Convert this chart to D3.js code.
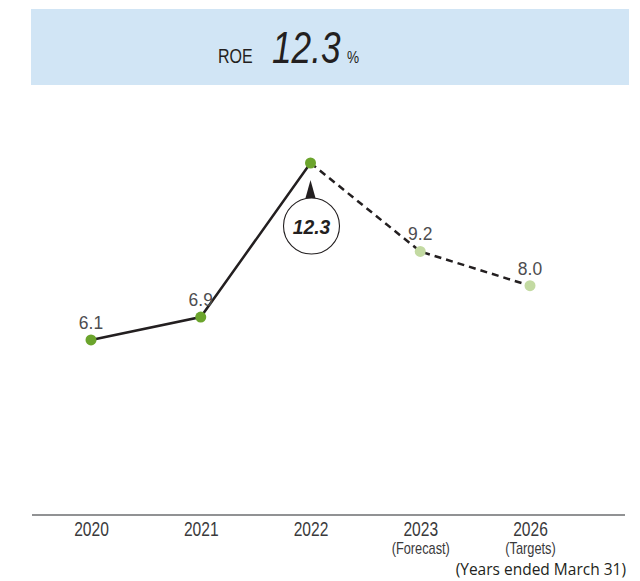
<!DOCTYPE html>
<html><head><meta charset="utf-8">
<script src="https://cdn.jsdelivr.net/npm/d3@7/dist/d3.min.js"></script>
<style>
html,body{margin:0;padding:0;background:#fff;}
svg{display:block;}
</style></head>
<body>
<script>
const categories = ["2020","2021","2022","2023","2026"];
const subLabels = ["","","","(Forecast)","(Targets)"];
const roeValues = [6.1, 6.9, 12.3, 9.2, 8.0];
const isActual = [true, true, true, false, false];
const headline = "12.3";

const W = 640, H = 581;
const svg = d3.select("body").append("svg").attr("width", W).attr("height", H);

const sans = "'Liberation Sans',Arial,sans-serif";
const NS = 0.8; // horizontal squeeze to mimic condensed type

// banner
svg.append("rect").attr("x",31).attr("y",9).attr("width",598).attr("height",76).attr("fill","#d1e5f5");
function bannerText(x0, size, italic, str){
  svg.append("text").attr("transform",`translate(${x0},63) scale(${NS},1)`)
    .attr("font-family",sans).attr("font-size",size).attr("fill","#231f20")
    .attr("font-style", italic ? "italic" : "normal").text(str);
}
bannerText(218, 20, false, "ROE");
bannerText(272, 44, true, headline);
bannerText(347, 17, false, "%");

const x = d3.scalePoint().domain(categories).range([91, 530]);
const y = d3.scaleLinear().domain([0, 12.3]).range([514, 163]);

// axis
const axis = d3.axisBottom(x).tickSize(0).tickPadding(0).tickFormat(d => d);
const ag = svg.append("g").attr("transform","translate(0,515)").call(axis);
ag.select(".domain").attr("d","M32,0H625").attr("stroke","#6d6e71").attr("stroke-width",1.6);
ag.selectAll(".tick text").attr("y",0).attr("dy",0)
  .attr("transform",`translate(0,20.5) scale(${NS},1)`).attr("font-size",19.5)
  .attr("font-family",sans).attr("fill","#3a3a3c");
ag.selectAll(".tick").append("text").attr("transform",`translate(0,38.5) scale(${NS},1)`).attr("text-anchor","middle")
  .attr("font-size",16).attr("font-family",sans).attr("fill","#3a3a3c")
  .text((d,i) => subLabels[i]);

const pts = categories.map((c,i) => ({c, v: roeValues[i], a: isActual[i]}));
const line = d3.line().x(d => x(d.c)).y(d => y(d.v));

svg.append("path").attr("d", line(pts.filter(d => d.a))).attr("fill","none")
  .attr("stroke","#231f20").attr("stroke-width",2.5);
svg.append("path").attr("d", line(pts.slice(2))).attr("fill","none")
  .attr("stroke","#231f20").attr("stroke-width",2.5).attr("stroke-dasharray","7,5");

svg.selectAll("circle.pt").data(pts).enter().append("circle").attr("class","pt")
  .attr("cx", d => x(d.c)).attr("cy", d => y(d.v)).attr("r",5.5)
  .attr("fill", d => d.a ? "#6ba42c" : "#c3daa2");

// value labels (except the highlighted 2022)
svg.selectAll("text.val").data(pts.filter(d => d.c !== "2022")).enter().append("text").attr("class","val")
  .attr("transform", d => `translate(${x(d.c)},${y(d.v) - 11}) scale(0.92,1)`).attr("text-anchor","middle")
  .attr("font-size",19).attr("font-family",sans).attr("fill","#4d4d4f")
  .text(d => d.v.toFixed(1));

// callout for 2022
const hp = pts[2];
const cx = x(hp.c) + 1, cy = y(hp.v) + 63;
svg.append("circle").attr("cx",cx).attr("cy",cy).attr("r",28).attr("fill","#fff")
  .attr("stroke","#231f20").attr("stroke-width",1.1);
svg.append("path").attr("d", `M${x(hp.c)},${y(hp.v)+17}L${x(hp.c)+5},${cy-28}L${x(hp.c)-5},${cy-28}Z`).attr("fill","#231f20");
svg.append("text").attr("transform",`translate(${cx},${cy+8}) scale(0.92,1)`).attr("text-anchor","middle")
  .attr("font-size",21).attr("font-weight","bold").attr("font-style","italic")
  .attr("font-family",sans).attr("fill","#231f20").text(hp.v.toFixed(1));

// footnote
svg.append("text").attr("x",626).attr("y",575).attr("text-anchor","end")
  .attr("font-size",15.5).attr("font-family","'Open Sans','Noto Sans',sans-serif").attr("fill","#231f20")
  .text("(Years ended March 31)");
</script>
</body></html>
